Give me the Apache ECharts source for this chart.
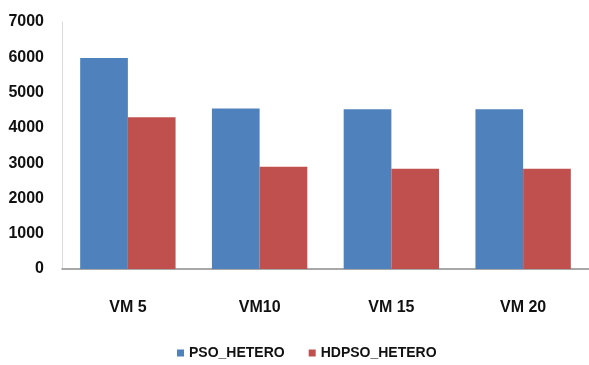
<!DOCTYPE html>
<html>
<head>
<meta charset="utf-8">
<script src="https://cdn.jsdelivr.net/npm/echarts@6/dist/echarts.min.js"></script>
<style>
  html, body { margin: 0; padding: 0; background: #ffffff; }
  #chart { width: 589px; height: 365px; }
</style>
</head>
<body>
<div id="chart"></div>
<script>
// Categories (VM counts) and the two series plotted per category
const categories = ['VM 5', 'VM10', 'VM 15', 'VM 20'];
const psoHetero = [5980, 4550, 4530, 4530];
const hdpsoHetero = [4300, 2900, 2840, 2840];
const seriesNames = ['PSO_HETERO', 'HDPSO_HETERO'];
const yTicks = { min: 0, max: 7000, step: 1000 };

const labelFont = {
  fontFamily: '"Liberation Sans", Arial, sans-serif',
  fontWeight: 'bold',
  color: '#111111'
};

const chart = echarts.init(document.getElementById('chart'), null, { renderer: 'canvas' });
chart.setOption({
  animation: false,
  backgroundColor: '#ffffff',
  grid: { left: 62, right: 0, top: 22, bottom: 96, containLabel: false },
  legend: {
    data: seriesNames,
    left: 172,
    top: 341,
    icon: 'rect',
    itemWidth: 7,
    itemHeight: 7,
    itemGap: 24,
    textStyle: Object.assign({ fontSize: 14 }, labelFont)
  },
  xAxis: {
    type: 'category',
    data: categories,
    axisLine: { lineStyle: { color: '#8c8c8c', width: 1.5 } },
    axisTick: { show: false },
    axisLabel: Object.assign({ fontSize: 16, margin: 31 }, labelFont),
    splitLine: { show: false }
  },
  yAxis: {
    type: 'value',
    min: yTicks.min,
    max: yTicks.max,
    interval: yTicks.step,
    axisLine: { show: true, lineStyle: { color: '#d9d9d9', width: 1 } },
    axisTick: { show: false },
    splitLine: { show: false },
    axisLabel: Object.assign({
      fontSize: 16,
      margin: 18,
      formatter: (v) => String(v)
    }, labelFont)
  },
  series: [
    {
      name: seriesNames[0],
      type: 'bar',
      data: psoHetero,
      barGap: '0%',
      barCategoryGap: '27.6%',
      itemStyle: { color: '#4f81bd' }
    },
    {
      name: seriesNames[1],
      type: 'bar',
      data: hdpsoHetero,
      barGap: '0%',
      barCategoryGap: '27.6%',
      itemStyle: { color: '#c0504d' }
    }
  ]
});
</script>
</body>
</html>
